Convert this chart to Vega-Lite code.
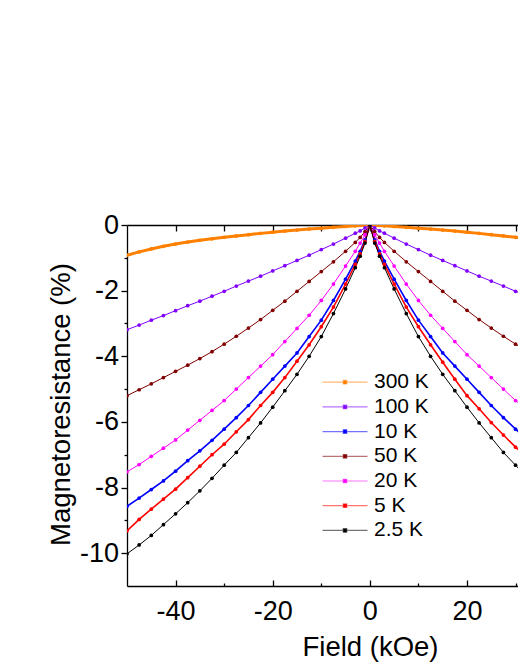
{
"$schema": "https://vega.github.io/schema/vega-lite/v6.json",
"width": 391, "height": 361,
"autosize": {"type": "none"},
"padding": {"left": 127, "top": 225, "right": 0, "bottom": 84},
"background": "white",
"config": {"view": {"stroke": null}, "font": "Liberation Sans",
 "axis": {"domainColor": "black", "tickColor": "black", "labelColor": "black", "titleColor": "black", "domainWidth": 1.3, "tickWidth": 1.3, "labelFont": "Liberation Sans", "titleFont": "Liberation Sans", "titleFontWeight": "normal"}},
"data": {"values": [
{"T":"300 K","H":-50,"MR":-0.92},{"T":"300 K","H":-47.5,"MR":-0.82},{"T":"300 K","H":-45,"MR":-0.73},{"T":"300 K","H":-42.5,"MR":-0.65},{"T":"300 K","H":-40,"MR":-0.58},{"T":"300 K","H":-37.5,"MR":-0.52},{"T":"300 K","H":-35,"MR":-0.465},{"T":"300 K","H":-32.5,"MR":-0.42},{"T":"300 K","H":-30,"MR":-0.375},{"T":"300 K","H":-27.5,"MR":-0.335},{"T":"300 K","H":-25,"MR":-0.295},{"T":"300 K","H":-22.5,"MR":-0.255},{"T":"300 K","H":-20,"MR":-0.22},{"T":"300 K","H":-17.5,"MR":-0.185},{"T":"300 K","H":-15,"MR":-0.155},{"T":"300 K","H":-12.5,"MR":-0.125},{"T":"300 K","H":-10,"MR":-0.1},{"T":"300 K","H":-7.5,"MR":-0.07},{"T":"300 K","H":-5,"MR":-0.045},{"T":"300 K","H":-3,"MR":-0.025},{"T":"300 K","H":-2,"MR":-0.015},{"T":"300 K","H":-1,"MR":-0.01},{"T":"300 K","H":0,"MR":0},{"T":"300 K","H":1,"MR":-0.01},{"T":"300 K","H":2,"MR":-0.015},{"T":"300 K","H":3,"MR":-0.025},{"T":"300 K","H":5,"MR":-0.045},{"T":"300 K","H":7.5,"MR":-0.07},{"T":"300 K","H":10,"MR":-0.1},{"T":"300 K","H":12.5,"MR":-0.125},{"T":"300 K","H":15,"MR":-0.155},{"T":"300 K","H":17.5,"MR":-0.185},{"T":"300 K","H":20,"MR":-0.22},{"T":"300 K","H":22.5,"MR":-0.255},{"T":"300 K","H":25,"MR":-0.295},{"T":"300 K","H":27.5,"MR":-0.335},{"T":"300 K","H":30,"MR":-0.375},{"T":"300 K","H":32.5,"MR":-0.42},
{"T":"100 K","H":-50,"MR":-3.19},{"T":"100 K","H":-47.5,"MR":-3.05},{"T":"100 K","H":-45,"MR":-2.9},{"T":"100 K","H":-42.5,"MR":-2.76},{"T":"100 K","H":-40,"MR":-2.61},{"T":"100 K","H":-37.5,"MR":-2.46},{"T":"100 K","H":-35,"MR":-2.32},{"T":"100 K","H":-32.5,"MR":-2.17},{"T":"100 K","H":-30,"MR":-2.02},{"T":"100 K","H":-27.5,"MR":-1.86},{"T":"100 K","H":-25,"MR":-1.71},{"T":"100 K","H":-22.5,"MR":-1.56},{"T":"100 K","H":-20,"MR":-1.4},{"T":"100 K","H":-17.5,"MR":-1.24},{"T":"100 K","H":-15,"MR":-1.08},{"T":"100 K","H":-12.5,"MR":-0.92},{"T":"100 K","H":-10,"MR":-0.75},{"T":"100 K","H":-7.5,"MR":-0.58},{"T":"100 K","H":-5,"MR":-0.4},{"T":"100 K","H":-3,"MR":-0.25},{"T":"100 K","H":-2,"MR":-0.18},{"T":"100 K","H":-1,"MR":-0.09},{"T":"100 K","H":0,"MR":0},{"T":"100 K","H":1,"MR":-0.09},{"T":"100 K","H":2,"MR":-0.18},{"T":"100 K","H":3,"MR":-0.25},{"T":"100 K","H":5,"MR":-0.4},{"T":"100 K","H":7.5,"MR":-0.58},{"T":"100 K","H":10,"MR":-0.75},{"T":"100 K","H":12.5,"MR":-0.92},{"T":"100 K","H":15,"MR":-1.08},{"T":"100 K","H":17.5,"MR":-1.24},{"T":"100 K","H":20,"MR":-1.4},{"T":"100 K","H":22.5,"MR":-1.56},{"T":"100 K","H":25,"MR":-1.71},{"T":"100 K","H":27.5,"MR":-1.86},{"T":"100 K","H":30,"MR":-2.02},{"T":"100 K","H":32.5,"MR":-2.17},
{"T":"50 K","H":-50,"MR":-5.2},{"T":"50 K","H":-47.5,"MR":-5.02},{"T":"50 K","H":-45,"MR":-4.84},{"T":"50 K","H":-42.5,"MR":-4.65},{"T":"50 K","H":-40,"MR":-4.46},{"T":"50 K","H":-37.5,"MR":-4.27},{"T":"50 K","H":-35,"MR":-4.07},{"T":"50 K","H":-32.5,"MR":-3.86},{"T":"50 K","H":-30,"MR":-3.63},{"T":"50 K","H":-27.5,"MR":-3.39},{"T":"50 K","H":-25,"MR":-3.14},{"T":"50 K","H":-22.5,"MR":-2.88},{"T":"50 K","H":-20,"MR":-2.6},{"T":"50 K","H":-17.5,"MR":-2.32},{"T":"50 K","H":-15,"MR":-2.02},{"T":"50 K","H":-12.5,"MR":-1.72},{"T":"50 K","H":-10,"MR":-1.42},{"T":"50 K","H":-7.5,"MR":-1.12},{"T":"50 K","H":-5,"MR":-0.8},{"T":"50 K","H":-3,"MR":-0.53},{"T":"50 K","H":-2,"MR":-0.38},{"T":"50 K","H":-1,"MR":-0.2},{"T":"50 K","H":0,"MR":0},{"T":"50 K","H":1,"MR":-0.2},{"T":"50 K","H":2,"MR":-0.38},{"T":"50 K","H":3,"MR":-0.53},{"T":"50 K","H":5,"MR":-0.8},{"T":"50 K","H":7.5,"MR":-1.12},{"T":"50 K","H":10,"MR":-1.42},{"T":"50 K","H":12.5,"MR":-1.72},{"T":"50 K","H":15,"MR":-2.02},{"T":"50 K","H":17.5,"MR":-2.32},{"T":"50 K","H":20,"MR":-2.6},{"T":"50 K","H":22.5,"MR":-2.88},{"T":"50 K","H":25,"MR":-3.14},{"T":"50 K","H":27.5,"MR":-3.39},{"T":"50 K","H":30,"MR":-3.63},{"T":"50 K","H":32.5,"MR":-3.86},
{"T":"20 K","H":-50,"MR":-7.52},{"T":"20 K","H":-47.5,"MR":-7.3},{"T":"20 K","H":-45,"MR":-7.05},{"T":"20 K","H":-42.5,"MR":-6.8},{"T":"20 K","H":-40,"MR":-6.55},{"T":"20 K","H":-37.5,"MR":-6.25},{"T":"20 K","H":-35,"MR":-5.95},{"T":"20 K","H":-32.5,"MR":-5.65},{"T":"20 K","H":-30,"MR":-5.35},{"T":"20 K","H":-27.5,"MR":-5.0},{"T":"20 K","H":-25,"MR":-4.65},{"T":"20 K","H":-22.5,"MR":-4.3},{"T":"20 K","H":-20,"MR":-3.95},{"T":"20 K","H":-17.5,"MR":-3.55},{"T":"20 K","H":-15,"MR":-3.15},{"T":"20 K","H":-12.5,"MR":-2.75},{"T":"20 K","H":-10,"MR":-2.3},{"T":"20 K","H":-7.5,"MR":-1.8},{"T":"20 K","H":-5,"MR":-1.25},{"T":"20 K","H":-3,"MR":-0.8},{"T":"20 K","H":-2,"MR":-0.55},{"T":"20 K","H":-1,"MR":-0.3},{"T":"20 K","H":0,"MR":0},{"T":"20 K","H":1,"MR":-0.3},{"T":"20 K","H":2,"MR":-0.55},{"T":"20 K","H":3,"MR":-0.8},{"T":"20 K","H":5,"MR":-1.25},{"T":"20 K","H":7.5,"MR":-1.8},{"T":"20 K","H":10,"MR":-2.3},{"T":"20 K","H":12.5,"MR":-2.75},{"T":"20 K","H":15,"MR":-3.15},{"T":"20 K","H":17.5,"MR":-3.55},{"T":"20 K","H":20,"MR":-3.95},{"T":"20 K","H":22.5,"MR":-4.3},{"T":"20 K","H":25,"MR":-4.65},{"T":"20 K","H":27.5,"MR":-5.0},{"T":"20 K","H":30,"MR":-5.35},{"T":"20 K","H":32.5,"MR":-5.65},
{"T":"10 K","H":-50,"MR":-8.57},{"T":"10 K","H":-47.5,"MR":-8.32},{"T":"10 K","H":-45,"MR":-8.06},{"T":"10 K","H":-42.5,"MR":-7.8},{"T":"10 K","H":-40,"MR":-7.5},{"T":"10 K","H":-37.5,"MR":-7.18},{"T":"10 K","H":-35,"MR":-6.88},{"T":"10 K","H":-32.5,"MR":-6.56},{"T":"10 K","H":-30,"MR":-6.22},{"T":"10 K","H":-27.5,"MR":-5.87},{"T":"10 K","H":-25,"MR":-5.5},{"T":"10 K","H":-22.5,"MR":-5.1},{"T":"10 K","H":-20,"MR":-4.7},{"T":"10 K","H":-17.5,"MR":-4.3},{"T":"10 K","H":-15,"MR":-3.9},{"T":"10 K","H":-12.5,"MR":-3.4},{"T":"10 K","H":-10,"MR":-2.9},{"T":"10 K","H":-7.5,"MR":-2.3},{"T":"10 K","H":-5,"MR":-1.65},{"T":"10 K","H":-3,"MR":-1.1},{"T":"10 K","H":-2,"MR":-0.8},{"T":"10 K","H":-1,"MR":-0.45},{"T":"10 K","H":0,"MR":0},{"T":"10 K","H":1,"MR":-0.45},{"T":"10 K","H":2,"MR":-0.8},{"T":"10 K","H":3,"MR":-1.1},{"T":"10 K","H":5,"MR":-1.65},{"T":"10 K","H":7.5,"MR":-2.3},{"T":"10 K","H":10,"MR":-2.9},{"T":"10 K","H":12.5,"MR":-3.4},{"T":"10 K","H":15,"MR":-3.9},{"T":"10 K","H":17.5,"MR":-4.3},{"T":"10 K","H":20,"MR":-4.7},{"T":"10 K","H":22.5,"MR":-5.1},{"T":"10 K","H":25,"MR":-5.5},{"T":"10 K","H":27.5,"MR":-5.87},{"T":"10 K","H":30,"MR":-6.22},{"T":"10 K","H":32.5,"MR":-6.56},
{"T":"5 K","H":-50,"MR":-9.32},{"T":"5 K","H":-47.5,"MR":-8.97},{"T":"5 K","H":-45,"MR":-8.66},{"T":"5 K","H":-42.5,"MR":-8.35},{"T":"5 K","H":-40,"MR":-8.05},{"T":"5 K","H":-37.5,"MR":-7.7},{"T":"5 K","H":-35,"MR":-7.35},{"T":"5 K","H":-32.5,"MR":-7.0},{"T":"5 K","H":-30,"MR":-6.68},{"T":"5 K","H":-27.5,"MR":-6.3},{"T":"5 K","H":-25,"MR":-5.93},{"T":"5 K","H":-22.5,"MR":-5.5},{"T":"5 K","H":-20,"MR":-5.1},{"T":"5 K","H":-17.5,"MR":-4.65},{"T":"5 K","H":-15,"MR":-4.15},{"T":"5 K","H":-12.5,"MR":-3.65},{"T":"5 K","H":-10,"MR":-3.1},{"T":"5 K","H":-7.5,"MR":-2.5},{"T":"5 K","H":-5,"MR":-1.8},{"T":"5 K","H":-3,"MR":-1.2},{"T":"5 K","H":-2,"MR":-0.88},{"T":"5 K","H":-1,"MR":-0.5},{"T":"5 K","H":0,"MR":0},{"T":"5 K","H":1,"MR":-0.5},{"T":"5 K","H":2,"MR":-0.88},{"T":"5 K","H":3,"MR":-1.2},{"T":"5 K","H":5,"MR":-1.8},{"T":"5 K","H":7.5,"MR":-2.5},{"T":"5 K","H":10,"MR":-3.1},{"T":"5 K","H":12.5,"MR":-3.65},{"T":"5 K","H":15,"MR":-4.18},{"T":"5 K","H":17.5,"MR":-4.7},{"T":"5 K","H":20,"MR":-5.2},{"T":"5 K","H":22.5,"MR":-5.6},{"T":"5 K","H":25,"MR":-6.02},{"T":"5 K","H":27.5,"MR":-6.4},{"T":"5 K","H":30,"MR":-6.77},{"T":"5 K","H":32.5,"MR":-7.1},
{"T":"2.5 K","H":-50,"MR":-10.02},{"T":"2.5 K","H":-47.5,"MR":-9.75},{"T":"2.5 K","H":-45,"MR":-9.46},{"T":"2.5 K","H":-42.5,"MR":-9.13},{"T":"2.5 K","H":-40,"MR":-8.8},{"T":"2.5 K","H":-37.5,"MR":-8.46},{"T":"2.5 K","H":-35,"MR":-8.1},{"T":"2.5 K","H":-32.5,"MR":-7.72},{"T":"2.5 K","H":-30,"MR":-7.32},{"T":"2.5 K","H":-27.5,"MR":-6.93},{"T":"2.5 K","H":-25,"MR":-6.48},{"T":"2.5 K","H":-22.5,"MR":-6.03},{"T":"2.5 K","H":-20,"MR":-5.55},{"T":"2.5 K","H":-17.5,"MR":-5.05},{"T":"2.5 K","H":-15,"MR":-4.55},{"T":"2.5 K","H":-12.5,"MR":-4.0},{"T":"2.5 K","H":-10,"MR":-3.4},{"T":"2.5 K","H":-7.5,"MR":-2.7},{"T":"2.5 K","H":-5,"MR":-1.95},{"T":"2.5 K","H":-3,"MR":-1.3},{"T":"2.5 K","H":-2,"MR":-0.95},{"T":"2.5 K","H":-1,"MR":-0.55},{"T":"2.5 K","H":0,"MR":0},{"T":"2.5 K","H":1,"MR":-0.55},{"T":"2.5 K","H":2,"MR":-0.95},{"T":"2.5 K","H":3,"MR":-1.3},{"T":"2.5 K","H":5,"MR":-1.95},{"T":"2.5 K","H":7.5,"MR":-2.7},{"T":"2.5 K","H":10,"MR":-3.4},{"T":"2.5 K","H":12.5,"MR":-4.0},{"T":"2.5 K","H":15,"MR":-4.55},{"T":"2.5 K","H":17.5,"MR":-5.05},{"T":"2.5 K","H":20,"MR":-5.55},{"T":"2.5 K","H":22.5,"MR":-6.03},{"T":"2.5 K","H":25,"MR":-6.48},{"T":"2.5 K","H":27.5,"MR":-6.93},{"T":"2.5 K","H":30,"MR":-7.32},{"T":"2.5 K","H":32.5,"MR":-7.72}
]},
"encoding": {
 "x": {"field": "H", "type": "quantitative", "scale": {"domain": [-50, 30.5], "nice": false, "zero": false},
   "axis": {"orient": "bottom", "values": [-40,-30,-20,-10,0,10,20,30],
     "labelExpr": "datum.value % 20 === 0 ? toString(datum.value) : ''",
     "tickSize": {"condition": {"test": "datum.value % 20 === 0", "value": -6}, "value": -3},
     "grid": true, "gridColor": "black", "gridWidth": 1.3, "gridDash": [6, 355], "gridDashOffset": 0,
     "labelPadding": 18.5, "labelFontSize": 27, "labelFlush": false, "labelOverlap": false,
     "title": "Field (kOe)", "titleFontSize": 27.5, "titleX": 243, "titlePadding": 6}},
 "y": {"field": "MR", "type": "quantitative", "scale": {"domain": [-11, 0], "nice": false},
   "axis": {"orient": "left", "values": [-10,-9,-8,-7,-6,-5,-4,-3,-2,-1,0],
     "labelExpr": "datum.value % 2 === 0 ? toString(datum.value) : ''",
     "tickSize": {"condition": {"test": "datum.value % 2 === 0", "value": 6}, "value": 3},
     "grid": true, "gridColor": "black", "gridWidth": 1.3,
     "gridOpacity": {"condition": {"test": "datum.value === 0", "value": 1}, "value": 0},
     "labelPadding": 2.5, "labelFontSize": 27, "labelFlush": false, "labelOverlap": false,
     "title": "Magnetoresistance (%)", "titleFontSize": 27.5, "titlePadding": 4, "titleY": 179}},
 "color": {"field": "T", "type": "nominal",
   "scale": {"domain": ["300 K","100 K","10 K","50 K","20 K","5 K","2.5 K"], "range": ["#FF8000","#8000FF","#0000FF","#800000","#FF00FF","#FF0000","#000000"]},
   "legend": {"orient": "none", "legendX": 207.5, "legendY": 146.7, "title": null, "padding": 0,
     "symbolType": "M-4.5,0H4.5M-0.35,-0.35H0.35V0.35H-0.35Z", "symbolSize": 100, "symbolStrokeWidth": 1.2,
     "labelFontSize": 21, "labelFont": "Liberation Sans", "labelColor": "black", "labelOffset": 18.5, "rowPadding": 2.7,
     "encode": {"symbols": {"update": {"fill": {"scale": "color", "field": "value"}, "stroke": {"scale": "color", "field": "value"}, "strokeWidth": {"value": 1.2}, "strokeOpacity": {"value": 0.55}, "fillOpacity": {"value": 1}, "opacity": {"value": 1}}}}}}
},
"layer": [
 {"mark": {"type": "line", "clip": true},
  "encoding": {
   "strokeWidth": {"condition": [{"test": "datum.T === '300 K'", "value": 3}, {"test": "datum.T === '10 K' || datum.T === '5 K'", "value": 1.6}], "value": 1}
  }},
 {"mark": {"type": "point", "filled": true, "size": 14, "opacity": 1, "clip": true}}
]
}
